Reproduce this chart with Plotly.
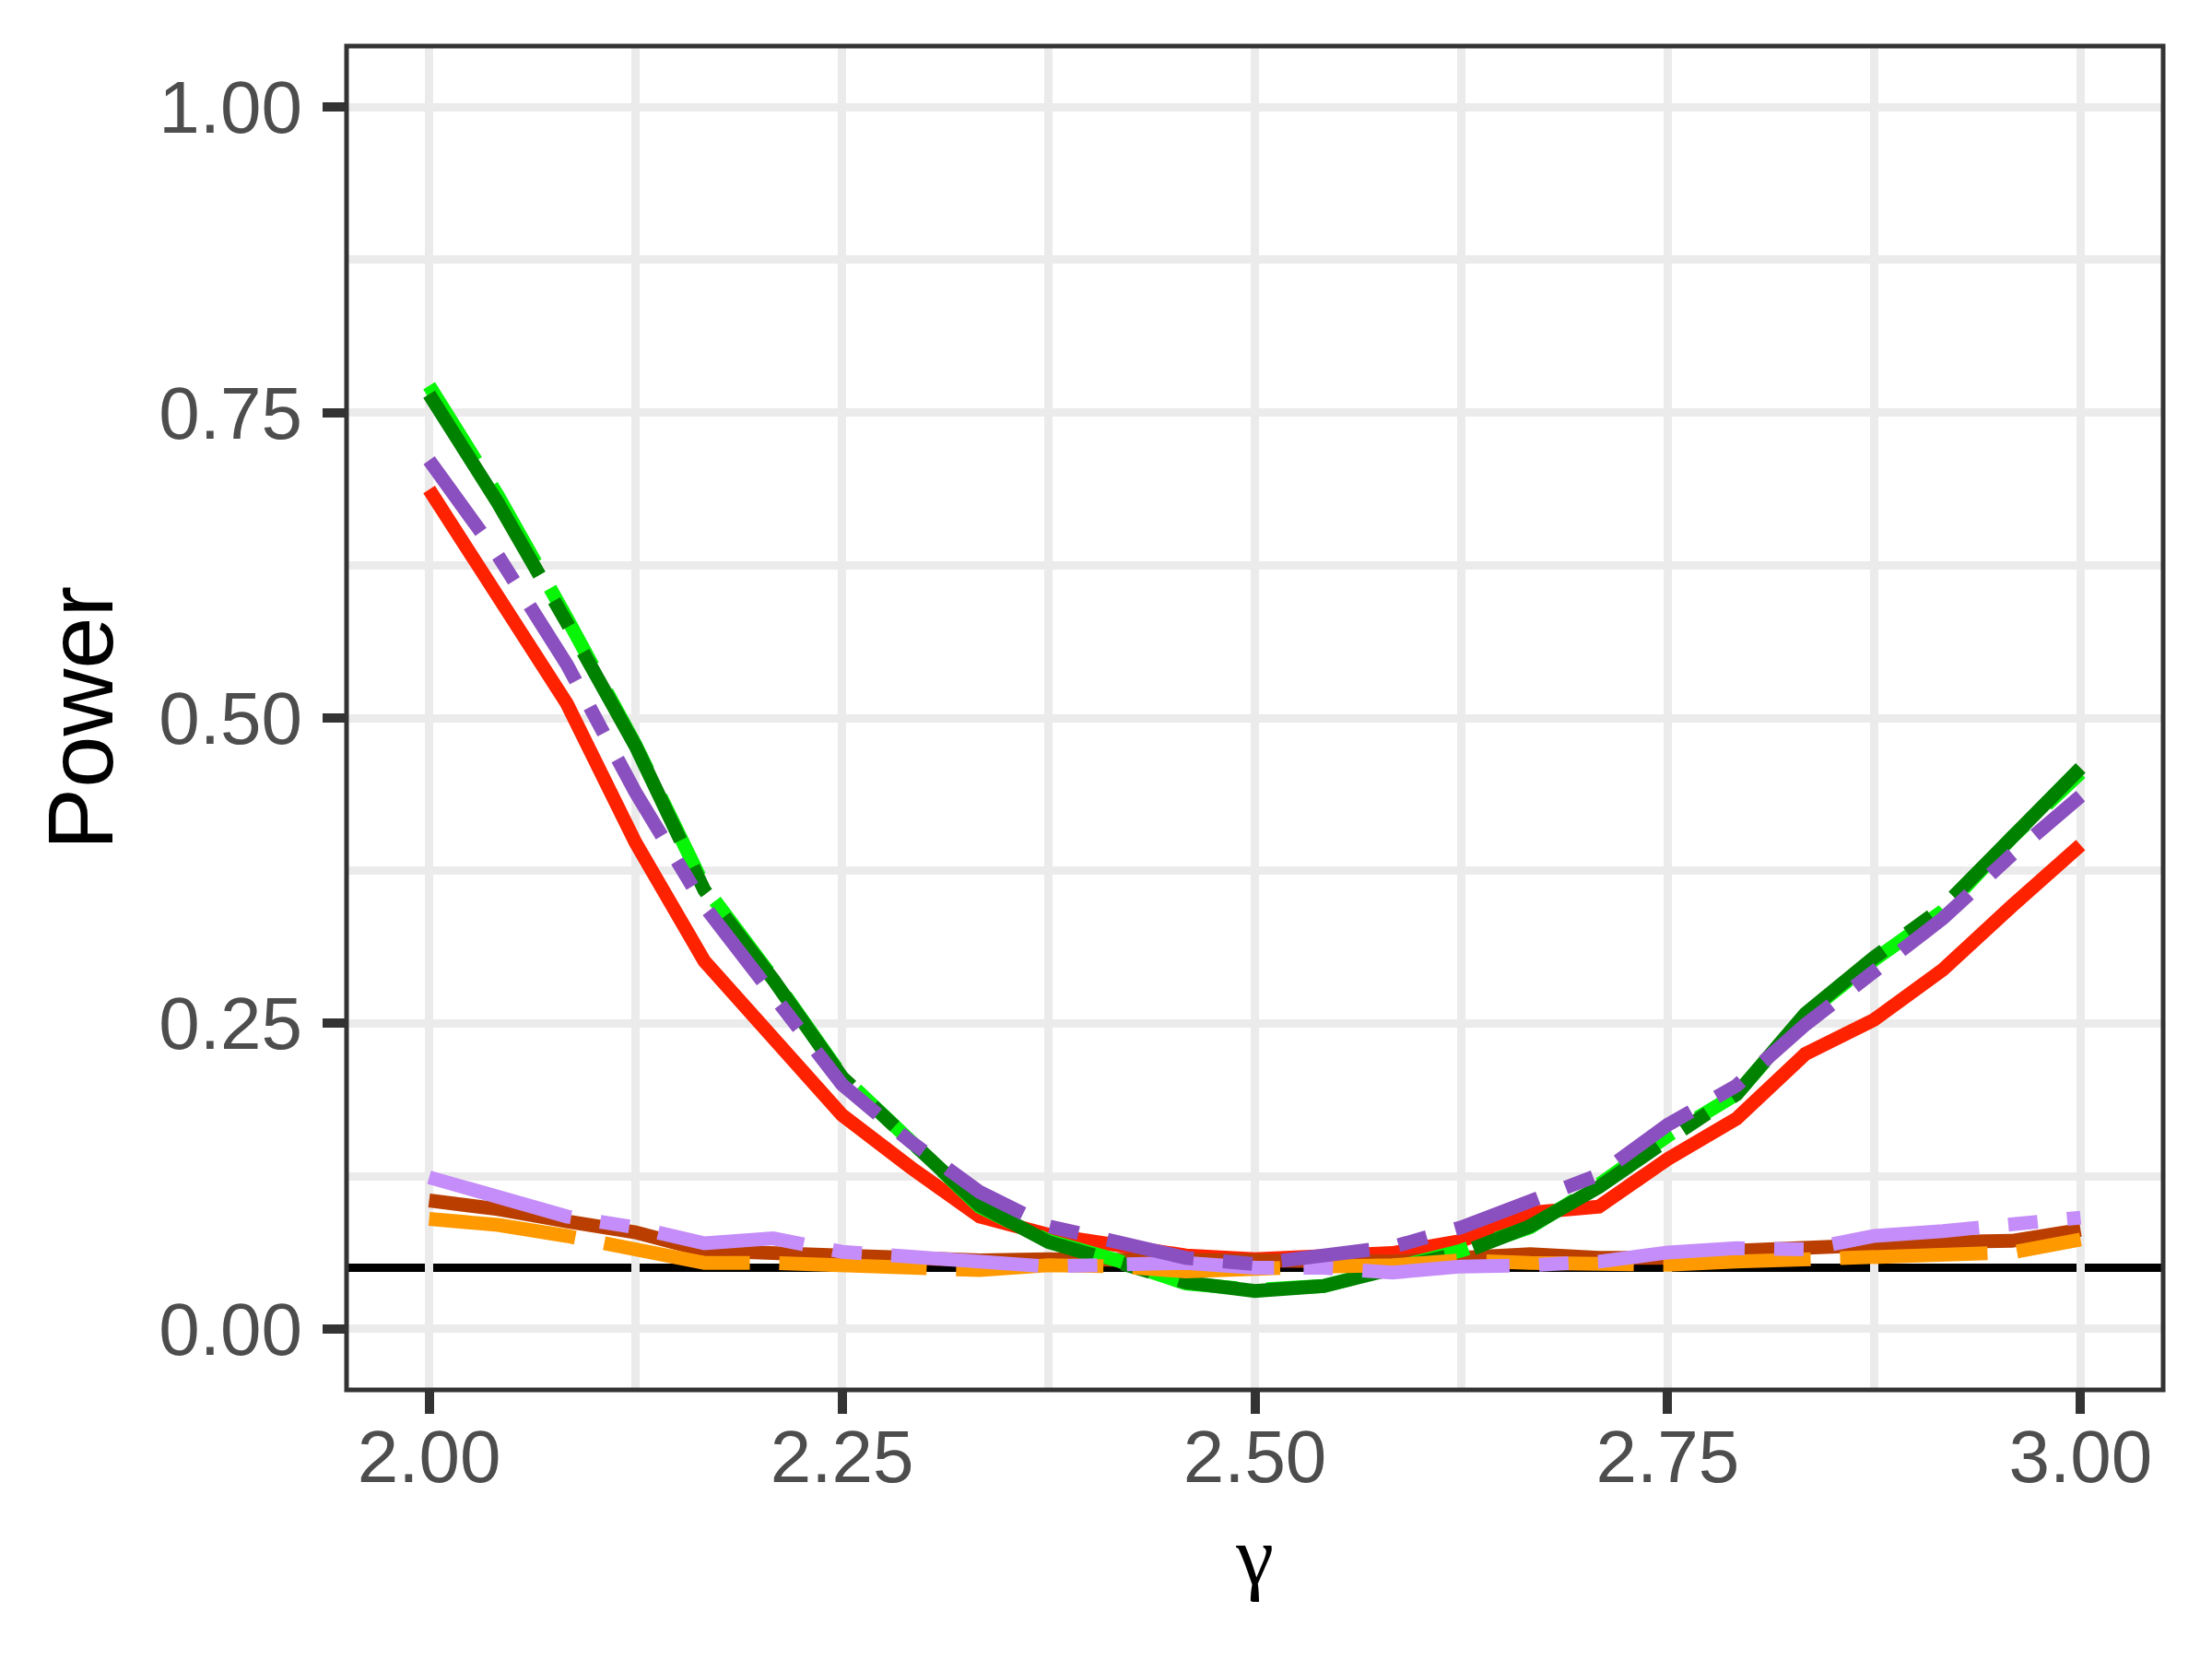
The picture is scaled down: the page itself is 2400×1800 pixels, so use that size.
import plotly.graph_objects as go

# x grid: 25 equally spaced gamma values between 2 and 3
gamma = [2 + i / 24 for i in range(25)]

red = [0.687, 0.600, 0.512, 0.398, 0.301, 0.238, 0.175, 0.132, 0.092, 0.077,
       0.068, 0.060, 0.057, 0.059, 0.062, 0.072, 0.095, 0.100, 0.139, 0.172,
       0.225, 0.253, 0.294, 0.346, 0.396]
brown = [0.105, 0.098, 0.088, 0.079, 0.064, 0.061, 0.060, 0.058, 0.056, 0.057,
         0.057, 0.055, 0.055, 0.055, 0.055, 0.058, 0.061, 0.058, 0.058, 0.064,
         0.067, 0.068, 0.071, 0.072, 0.081]
bright_green = [0.772, 0.682, 0.582, 0.478, 0.362, 0.287, 0.207, 0.152, 0.100, 0.072,
                0.056, 0.037, 0.032, 0.035, 0.050, 0.064, 0.083, 0.118, 0.158, 0.192,
                0.257, 0.302, 0.342, 0.402, 0.455]
dark_green = [0.765, 0.676, 0.578, 0.477, 0.359, 0.286, 0.206, 0.153, 0.101, 0.071,
              0.055, 0.038, 0.031, 0.035, 0.049, 0.062, 0.084, 0.116, 0.155, 0.192,
              0.258, 0.304, 0.345, 0.404, 0.459]
orange = [0.090, 0.085, 0.076, 0.066, 0.054, 0.054, 0.0525, 0.049, 0.048, 0.052,
          0.051, 0.047, 0.050, 0.051, 0.052, 0.056, 0.054, 0.053, 0.0525, 0.055,
          0.0575, 0.060, 0.061, 0.0625, 0.073]
light_purple = [0.124, 0.108, 0.092, 0.083, 0.070, 0.074, 0.063, 0.059, 0.054, 0.051,
                0.0525, 0.054, 0.050, 0.050, 0.046, 0.051, 0.052, 0.055, 0.0625, 0.066,
                0.065, 0.076, 0.080, 0.086, 0.091]
purple = [0.711, 0.633, 0.544, 0.439, 0.346, 0.271, 0.200, 0.153, 0.112, 0.084,
          0.070, 0.058, 0.053, 0.061, 0.067, 0.083, 0.104, 0.126, 0.167, 0.199,
          0.249, 0.292, 0.336, 0.388, 0.436]

x_ticks = [2.00, 2.25, 2.50, 2.75, 3.00]
y_ticks = [0.00, 0.25, 0.50, 0.75, 1.00]
x_minor = [2.125, 2.375, 2.625, 2.875]
y_minor = [0.125, 0.375, 0.625, 0.875]
alpha_level = 0.05
gamma_null = 2.5

series = [
    (red, "#FF2200", "solid"),
    (brown, "#BA3E00", "solid"),
    (bright_green, "#08F508", "96px,32px"),
    (dark_green, "#008200", "230px,32px,32px,32px"),
    (orange, "#FF9900", "160px,32px"),
    (light_purple, "#C58DF9", "160px,32px,32px,32px"),
    (purple, "#8B50BF", "96px,32px,32px,32px"),
]

fig = go.Figure()
for vals, col, dash in series:
    fig.add_trace(go.Scatter(x=gamma, y=vals, mode="lines",
                             line=dict(color=col, width=15, dash=dash),
                             showlegend=False))

fig.add_shape(type="line", xref="paper", yref="y", x0=0, x1=1,
              y0=alpha_level, y1=alpha_level, line=dict(color="black", width=9),
              layer="between")
fig.add_shape(type="line", xref="x", yref="paper", x0=gamma_null, x1=gamma_null,
              y0=0, y1=1, line=dict(color="black", width=9), layer="between")
fig.add_shape(type="rect", xref="paper", yref="paper", x0=0, x1=1, y0=0, y1=1,
              line=dict(color="#333333", width=5), layer="above")

tickfont = dict(family="Liberation Sans, Arial, sans-serif", size=80, color="#4D4D4D")
grid = dict(showgrid=True, gridcolor="#EBEBEB", gridwidth=9, zeroline=False,
            ticks="outside", ticklen=25, tickwidth=10, tickcolor="#333333",
            showline=False, tickfont=tickfont, tickformat=".2f")

fig.update_xaxes(range=[1.95, 3.05], tickvals=x_ticks,
                 minor=dict(tickvals=x_minor, showgrid=True,
                            gridcolor="#EBEBEB", gridwidth=9, ticks=""),
                 ticklabelstandoff=-22,
                 title=dict(text="γ", standoff=30,
                            font=dict(family="Liberation Serif, serif", size=92, color="black")),
                 **grid)
fig.update_yaxes(range=[-0.05, 1.05], tickvals=y_ticks,
                 minor=dict(tickvals=y_minor, showgrid=True,
                            gridcolor="#EBEBEB", gridwidth=9, ticks=""),
                 ticklabelstandoff=6,
                 title=dict(text="Power", standoff=15,
                            font=dict(family="Liberation Sans, Arial, sans-serif", size=101, color="black")),
                 **grid)

fig.update_layout(width=2400, height=1800, plot_bgcolor="white", paper_bgcolor="white",
                  margin=dict(l=368, r=61, t=42, b=300, autoexpand=False), showlegend=False)

fig.write_html("out.html")
